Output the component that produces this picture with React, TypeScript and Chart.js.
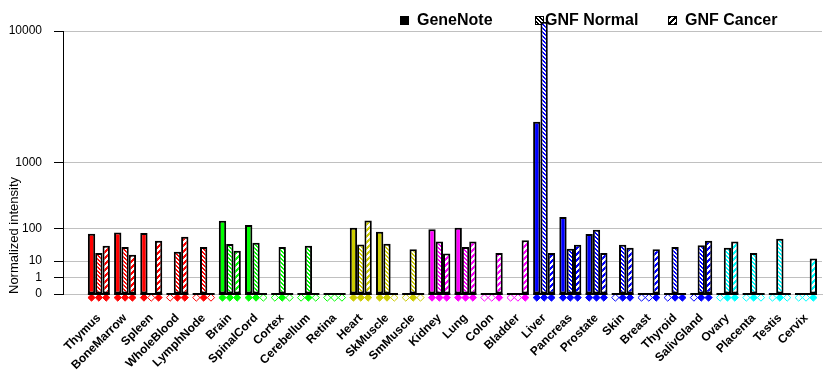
import { useEffect, useRef } from 'react';
import { Chart, registerables } from 'chart.js';

Chart.register(...registerables);

// ---------- data ----------
const tissues = [
  'Thymus', 'BoneMarrow', 'Spleen', 'WholeBlood', 'LymphNode', 'Brain', 'SpinalCord', 'Cortex',
  'Cerebellum', 'Retina', 'Heart', 'SkMuscle', 'SmMuscle', 'Kidney', 'Lung', 'Colon', 'Bladder',
  'Liver', 'Pancreas', 'Prostate', 'Skin', 'Breast', 'Thyroid', 'SalivGland', 'Ovary', 'Placenta',
  'Testis', 'Cervix',
];
const geneNote: (number | null)[] = [
  75, 80, 78, null, null, 143, 117, null, null, null, 103, 83, null, 95, 102, null, null,
  2450, 169, 74, null, null, null, null, null, null, null, null,
];
const gnfNormal: (number | null)[] = [
  21, 33, null, 23, 33, 40, 44, 33, 36, null, 39, 41, 28, 47, 33, null, null,
  11200, 29, 93, 38, null, 33, 37, 31, 21, 56, null,
];
const gnfCancer: (number | null)[] = [
  36, 18, 50, 63, null, 25, null, null, null, null, 145, null, null, 20, 47, 21, 51,
  21, 38, 21, 31, 28, 0, 50, 47, null, null, 13,
];
const yTickValues = [0, 1, 10, 100, 1000, 10000];
const seriesNames = ['GeneNote', 'GNF Normal', 'GNF Cancer'];

// ---------- styles ----------
const RED = '#FF0000', GREEN = '#00FF00', OLIVE = '#CCCC00', MAGENTA = '#FF00FF', BLUE = '#0000FF', CYAN = '#00FFFF';
const tissueColors = [
  RED, RED, RED, RED, RED, GREEN, GREEN, GREEN, GREEN, GREEN, OLIVE, OLIVE, OLIVE,
  MAGENTA, MAGENTA, MAGENTA, MAGENTA, BLUE, BLUE, BLUE, BLUE, BLUE, BLUE, BLUE,
  CYAN, CYAN, CYAN, CYAN,
];
const FONT = 'Arial, "Liberation Sans", sans-serif';
const GROUP = 0.84;
const BAR_W = GROUP / 3;

// power scale: each decade takes double the height of the previous one
const EXP = Math.log10(2);
const tr = (v: number) => Math.pow(v, EXP);

type Kind = 'solid' | 'normal' | 'cancer';

export default function App() {
  const ref = useRef<HTMLCanvasElement>(null);

  useEffect(() => {
    const canvas = ref.current!;
    const mainCtx = canvas.getContext('2d')!;
    const cache = new Map<string, CanvasPattern | string>();
    const fill = (color: string, kind: Kind): CanvasPattern | string => {
      if (kind === 'solid') return color;
      const key = color + kind;
      if (cache.has(key)) return cache.get(key)!;
      const size = kind === 'normal' ? 4 : 6;
      const c = document.createElement('canvas');
      c.width = size;
      c.height = size;
      const g = c.getContext('2d')!;
      g.fillStyle = color;
      g.fillRect(0, 0, size, size);
      g.fillStyle = '#FFFFFF';
      for (let y = 0; y < size; y++) {
        for (let x = 0; x < size; x++) {
          const white = kind === 'normal' ? (x - y + size) % size < 2 : (x + y) % size < 3;
          if (white) g.fillRect(x, y, 1, 1);
        }
      }
      const p = mainCtx.createPattern(c, 'repeat')!;
      cache.set(key, p);
      return p;
    };

    const kinds: Kind[] = ['solid', 'normal', 'cancer'];
    const series = [geneNote, gnfNormal, gnfCancer];

    const barSets = series.map((vals, k) => ({
      type: 'bar' as const,
      label: seriesNames[k],
      data: vals.map((v, i) => ({ x: i, y: v == null ? null : tr(v) })),
      backgroundColor: vals.map((_, i) => fill(tissueColors[i], kinds[k])),
      borderColor: '#000000',
      borderWidth: 2,
      borderSkipped: false,
      categoryPercentage: GROUP,
      barPercentage: 1,
      clip: false,
      order: 2,
    }));

    const markerData: { x: number; y: number }[] = [];
    const markerFill: string[] = [];
    const markerBorder: string[] = [];
    tissues.forEach((_, i) => {
      series.forEach((vals, k) => {
        markerData.push({ x: i + (k - 1) * BAR_W, y: -0.22 });
        markerFill.push(vals[i] == null ? '#FFFFFF' : tissueColors[i]);
        markerBorder.push(tissueColors[i]);
      });
    });

    const markerSet = {
      type: 'scatter' as const,
      label: 'present',
      data: markerData,
      pointStyle: 'rectRot',
      pointRadius: 3.6,
      pointBorderWidth: 1,
      pointBackgroundColor: markerFill,
      pointBorderColor: markerBorder,
      showLine: false,
      clip: false,
      order: 1,
    };

    const baselinePlugin = {
      id: 'groupBaseline',
      afterDatasetsDraw(chart: any) {
        const { ctx, scales } = chart;
        const y0 = scales.y.getPixelForValue(0);
        ctx.save();
        ctx.strokeStyle = '#000000';
        ctx.lineWidth = 2;
        tissues.forEach((_, i) => {
          ctx.beginPath();
          ctx.moveTo(scales.x.getPixelForValue(i - GROUP / 2), y0);
          ctx.lineTo(scales.x.getPixelForValue(i + GROUP / 2), y0);
          ctx.stroke();
        });
        ctx.restore();
      },
    };

    const legendPlugin = {
      id: 'geneLegend',
      beforeDatasetsDraw(chart: any) {
        const { ctx } = chart;
        const items = [
          { box: 392, text: 409, kind: 'solid' as Kind },
          { box: 527, text: 537, kind: 'normal' as Kind },
          { box: 660, text: 677, kind: 'cancer' as Kind },
        ];
        ctx.save();
        ctx.font = `bold 16px ${FONT}`;
        ctx.textBaseline = 'middle';
        ctx.textAlign = 'left';
        items.forEach((it, k) => {
          ctx.fillStyle = fill('#000000', it.kind);
          ctx.fillRect(it.box, 8, 8, 8);
          ctx.strokeStyle = '#000000';
          ctx.lineWidth = 1;
          ctx.strokeRect(it.box + 0.5, 8.5, 8, 8);
          ctx.fillStyle = '#000000';
          ctx.fillText(seriesNames[k], it.text, 13);
        });
        ctx.restore();
      },
    };

    const chart = new Chart(canvas, {
      type: 'bar',
      data: { datasets: [...barSets, markerSet] as any },
      plugins: [legendPlugin, baselinePlugin],
      options: {
        animation: false,
        responsive: true,
        maintainAspectRatio: false,
        events: [],
        layout: { padding: { top: 23, right: 10, bottom: 0, left: 0 } },
        plugins: {
          legend: { display: false },
          tooltip: { enabled: false },
        },
        scales: {
          x: {
            type: 'linear',
            min: -1.37,
            max: 27.61,
            offset: false,
            grid: { display: false },
            border: { display: true, color: '#C0C0C0', width: 1 },
            afterBuildTicks: (s: any) => {
              s.ticks = tissues.map((_, i) => ({ value: i }));
            },
            afterFit: (s: any) => {
              s.height = 83;
            },
            ticks: {
              autoSkip: false,
              minRotation: 45,
              maxRotation: 45,
              padding: 9,
              color: '#000000',
              font: { family: FONT, size: 12, weight: 'bold' },
              callback: (v: any) => tissues[Math.round(Number(v))] ?? '',
            },
          },
          y: {
            type: 'linear',
            min: 0,
            max: tr(10000),
            afterBuildTicks: (s: any) => {
              s.ticks = yTickValues.map((v) => ({ value: tr(v) }));
            },
            afterFit: (s: any) => {
              s.width = 55;
            },
            grid: { color: '#C0C0C0', tickColor: '#000000', tickLength: 9, lineWidth: 1 },
            border: { display: true, color: '#000000', width: 1 },
            ticks: {
              padding: 12,
              color: '#000000',
              font: { family: FONT, size: 12 },
              callback: (_v: any, idx: number) => String(yTickValues[idx]),
            },
            title: {
              display: true,
              text: 'Normalized intensity',
              align: 'start',
              color: '#000000',
              font: { family: FONT, size: 13 },
              padding: { top: -1, bottom: 0 },
            },
          },
        },
      } as any,
    });
    return () => chart.destroy();
  }, []);

  return (
    <div style={{ position: 'relative', width: '100%', height: '369px' }}>
      <canvas ref={ref} />
    </div>
  );
}
